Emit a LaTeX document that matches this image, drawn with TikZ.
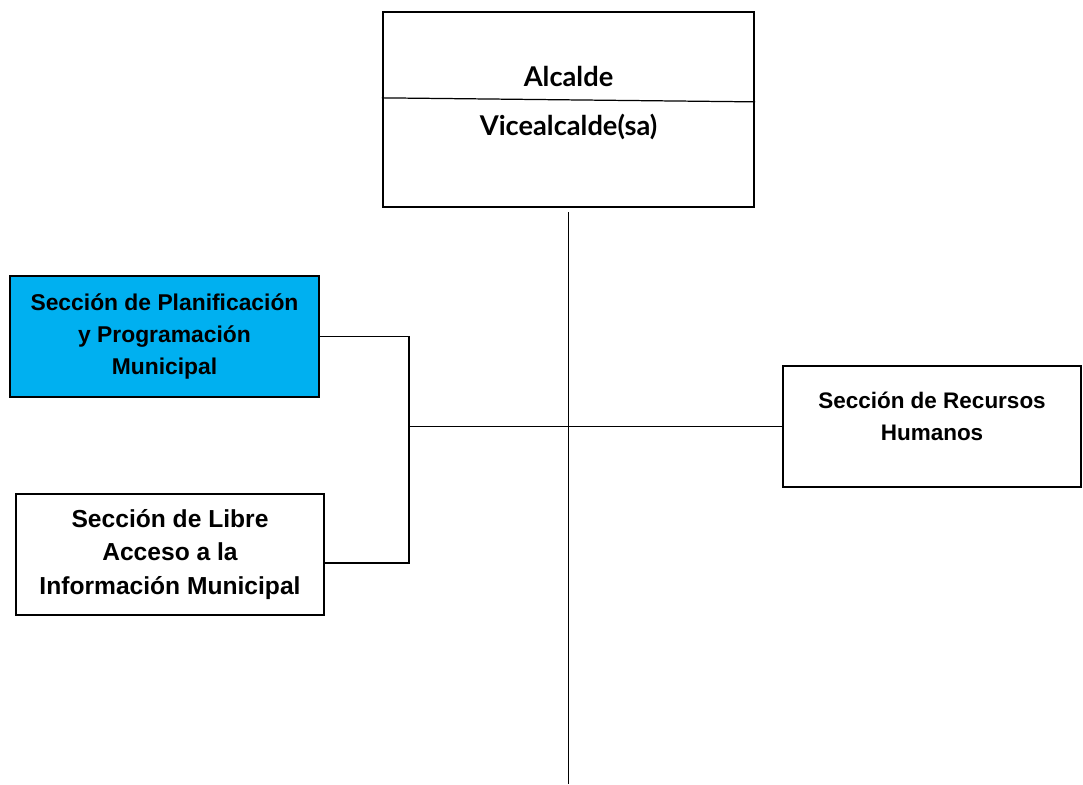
\documentclass[tikz,border=0pt]{standalone}
\usepackage{fontspec}
\setmainfont{Liberation Sans}
\newfontfamily\gillfont{Lato}
\usepackage{xcolor}
\usepackage{tikz}
\usetikzlibrary{positioning}
\definecolor{celeste}{HTML}{00B0F0}
\newcommand{\seccfont}{\fontsize{13}{18.4}\selectfont\bfseries}

\begin{document}
\begin{tikzpicture}[x=1cm,y=1cm,
  caja/.style={draw,line width=1.3pt,align=center,minimum width=6.17cm,minimum height=2.42cm,inner sep=0pt,font=\seccfont},
  titulo/.style={font=\gillfont\bfseries\fontsize{15.5}{18}\selectfont},
  linea/.style={line width=0.7pt}]
\useasboundingbox (0,0) rectangle (21.66,-15.68);

\node [draw,line width=1.3pt,minimum width=7.42cm,minimum height=3.9cm] (alcaldia) at (11.37,-2.19) {};
\draw [linea] ([yshift=-1.74cm]alcaldia.north west) -- ([yshift=-1.82cm]alcaldia.north east);
\node [titulo] (alcalde) at (11.37,-1.52) {Alcalde};
\node [titulo] (vice) at (11.37,-2.54) {Vicealcalde(sa)};

\node [caja,fill=celeste] (plan) at (3.29,-6.73) {Sección de Planificación\\ y Programación\\ Municipal};
\node [caja,font=\fontsize{14}{19}\selectfont\bfseries] (libre) at (3.4,-11.09) {Sección de Libre\\ Acceso a la\\ Información Municipal};
\node [caja,minimum width=5.96cm] (rrhh) at (18.64,-8.53) {};
\node [align=center,font=\fontsize{12.8}{18}\selectfont\bfseries] (rrhhtexto) at ([yshift=0.2cm]rrhh.center) {Sección de Recursos\\ Humanos};

\coordinate (fondo) at (11.37,-15.68);
\coordinate (barra) at (8.18,-6.73);

\draw [linea] ([yshift=-0.08cm]alcaldia.south) -- (fondo);
\draw [linea] (plan.east) -- (barra) |- ([yshift=-0.17cm]libre.east);
\draw [linea] (rrhh.west) -- (rrhh.west -| barra);
\end{tikzpicture}
\end{document}
